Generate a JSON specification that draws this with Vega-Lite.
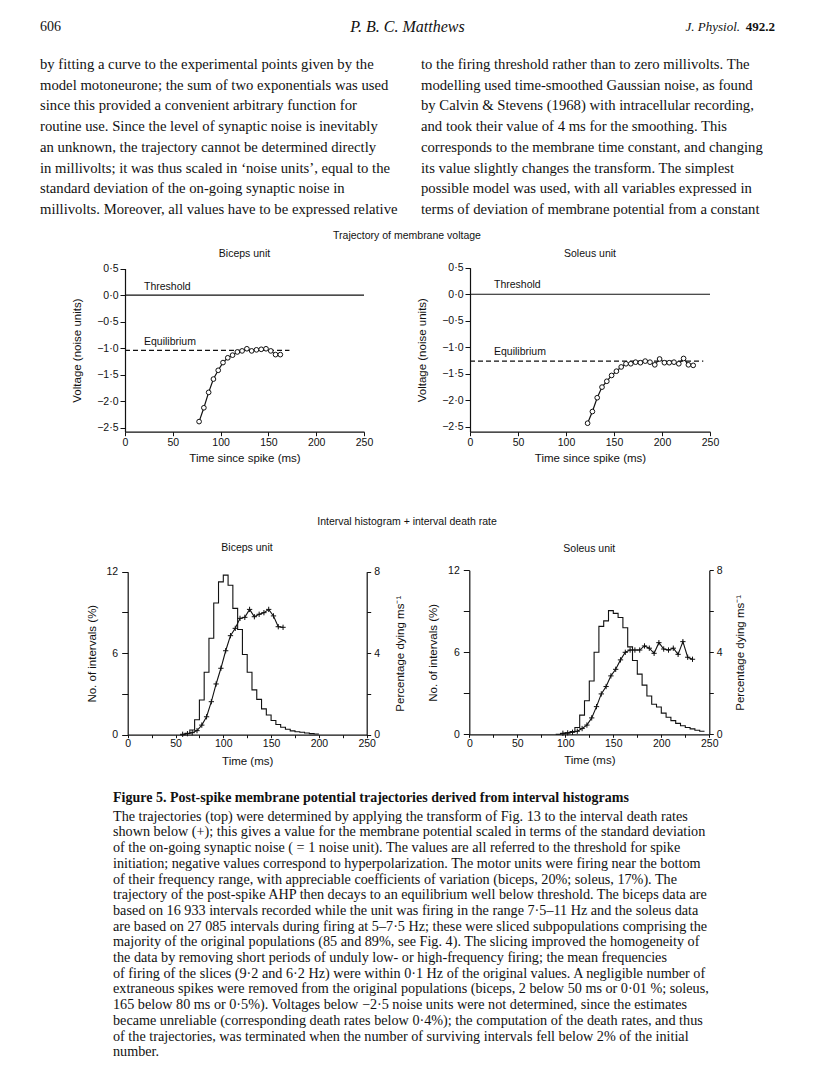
{
  "$schema": "https://vega.github.io/schema/vega-lite/v6.json",
  "width": 816,
  "height": 1071,
  "autosize": {"type": "none"},
  "padding": 0,
  "background": "white",
  "config": {
    "view": {"stroke": null},
    "axis": {
      "grid": false,
      "domainColor": "#111",
      "domainWidth": 1.2,
      "tickColor": "#111",
      "tickWidth": 1,
      "labelColor": "#111",
      "titleColor": "#111",
      "labelFont": "Liberation Sans",
      "titleFont": "Liberation Sans",
      "labelFontSize": 10.5,
      "titleFontSize": 11.5,
      "titleFontWeight": "normal",
      "labelFlush": false,
      "labelOverlap": false
    },
    "text": {"font": "Liberation Sans", "color": "#111"}
  },
  "datasets": {
    "header": [
      {"slot": "left", "part": "page", "row": "head", "text": "606"},
      {"slot": "center", "part": "author", "row": "head", "text": "P. B. C. Matthews"},
      {"slot": "right", "part": "journal", "row": "head", "text": "J. Physiol."},
      {"slot": "right", "part": "volume", "row": "head", "text": "492.2"}
    ],
    "para": [
      {"col": "left", "line": 1, "text": "by fitting a curve to the experimental points given by the"},
      {"col": "left", "line": 2, "text": "model motoneurone; the sum of two exponentials was used"},
      {"col": "left", "line": 3, "text": "since this provided a convenient arbitrary function for"},
      {"col": "left", "line": 4, "text": "routine use. Since the level of synaptic noise is inevitably"},
      {"col": "left", "line": 5, "text": "an unknown, the trajectory cannot be determined directly"},
      {"col": "left", "line": 6, "text": "in millivolts; it was thus scaled in ‘noise units’, equal to the"},
      {"col": "left", "line": 7, "text": "standard deviation of the on-going synaptic noise in"},
      {"col": "left", "line": 8, "text": "millivolts. Moreover, all values have to be expressed relative"},
      {"col": "right", "line": 1, "text": "to the firing threshold rather than to zero millivolts. The"},
      {"col": "right", "line": 2, "text": "modelling used time-smoothed Gaussian noise, as found"},
      {"col": "right", "line": 3, "text": "by Calvin & Stevens (1968) with intracellular recording,"},
      {"col": "right", "line": 4, "text": "and took their value of 4 ms for the smoothing. This"},
      {"col": "right", "line": 5, "text": "corresponds to the membrane time constant, and changing"},
      {"col": "right", "line": 6, "text": "its value slightly changes the transform. The simplest"},
      {"col": "right", "line": 7, "text": "possible model was used, with all variables expressed in"},
      {"col": "right", "line": 8, "text": "terms of deviation of membrane potential from a constant"}
    ],
    "figTitles": [
      {"block": "fig", "part": "top", "text": "Trajectory of membrane voltage"},
      {"block": "fig", "part": "bottom", "text": "Interval histogram + interval death rate"}
    ],
    "capTitle": [
      {"block": "cap", "text": "Figure 5. Post-spike membrane potential trajectories derived from interval histograms"}
    ],
    "caption": [
      {"block": "cap", "line": 1, "text": "The trajectories (top) were determined by applying the transform of Fig. 13 to the interval death rates"},
      {"block": "cap", "line": 2, "text": "shown below (+); this gives a value for the membrane potential scaled in terms of the standard deviation"},
      {"block": "cap", "line": 3, "text": "of the on-going synaptic noise ( = 1 noise unit). The values are all referred to the threshold for spike"},
      {"block": "cap", "line": 4, "text": "initiation; negative values correspond to hyperpolarization. The motor units were firing near the bottom"},
      {"block": "cap", "line": 5, "text": "of their frequency range, with appreciable coefficients of variation (biceps, 20%; soleus, 17%). The"},
      {"block": "cap", "line": 6, "text": "trajectory of the post-spike AHP then decays to an equilibrium well below threshold. The biceps data are"},
      {"block": "cap", "line": 7, "text": "based on 16 933 intervals recorded while the unit was firing in the range 7·5–11 Hz and the soleus data"},
      {"block": "cap", "line": 8, "text": "are based on 27 085 intervals during firing at 5–7·5 Hz; these were sliced subpopulations comprising the"},
      {"block": "cap", "line": 9, "text": "majority of the original populations (85 and 89%, see Fig. 4). The slicing improved the homogeneity of"},
      {"block": "cap", "line": 10, "text": "the data by removing short periods of unduly low- or high-frequency firing; the mean frequencies"},
      {"block": "cap", "line": 11, "text": "of firing of the slices (9·2 and 6·2 Hz) were within 0·1 Hz of the original values. A negligible number of"},
      {"block": "cap", "line": 12, "text": "extraneous spikes were removed from the original populations (biceps, 2 below 50 ms or 0·01 %; soleus,"},
      {"block": "cap", "line": 13, "text": "165 below 80 ms or 0·5%). Voltages below −2·5 noise units were not determined, since the estimates"},
      {"block": "cap", "line": 14, "text": "became unreliable (corresponding death rates below 0·4%); the computation of the death rates, and thus"},
      {"block": "cap", "line": 15, "text": "of the trajectories, was terminated when the number of surviving intervals fell below 2% of the initial"},
      {"block": "cap", "line": 16, "text": "number."}
    ],
    "panels": [
      {"panel": "biceps", "text": "Biceps unit"},
      {"panel": "soleus", "text": "Soleus unit"}
    ],
    "bicepsLevels": [
      {"label": "Threshold", "v": 0, "start": 0, "end": 250},
      {"label": "Equilibrium", "v": -1.04, "start": 0, "end": 172}
    ],
    "soleusLevels": [
      {"label": "Threshold", "v": 0, "start": 0, "end": 250},
      {"label": "Equilibrium", "v": -1.26, "start": 0, "end": 243}
    ],
    "bicepsTraj": [
      {"t": 77.5, "v": -2.38}, {"t": 82.5, "v": -2.12}, {"t": 87.5, "v": -1.83},
      {"t": 92.5, "v": -1.58}, {"t": 97.5, "v": -1.415}, {"t": 102.5, "v": -1.27},
      {"t": 107.5, "v": -1.18}, {"t": 112.5, "v": -1.13}, {"t": 117.5, "v": -1.07},
      {"t": 122.5, "v": -1.05}, {"t": 127.5, "v": -1.01}, {"t": 132.5, "v": -1.05},
      {"t": 137.5, "v": -1.03}, {"t": 142.5, "v": -1.02}, {"t": 147.5, "v": -1.01},
      {"t": 152.5, "v": -1.05}, {"t": 157.5, "v": -1.12}, {"t": 162.5, "v": -1.12}
    ],
    "soleusTraj": [
      {"t": 122.5, "v": -2.43}, {"t": 127.5, "v": -2.21}, {"t": 132.5, "v": -1.95},
      {"t": 137.5, "v": -1.75}, {"t": 142.5, "v": -1.64}, {"t": 147.5, "v": -1.53},
      {"t": 152.5, "v": -1.45}, {"t": 157.5, "v": -1.37}, {"t": 162.5, "v": -1.31},
      {"t": 167.5, "v": -1.31}, {"t": 172.5, "v": -1.28}, {"t": 177.5, "v": -1.29},
      {"t": 182.5, "v": -1.26}, {"t": 187.5, "v": -1.28}, {"t": 192.5, "v": -1.33},
      {"t": 197.5, "v": -1.22}, {"t": 202.5, "v": -1.29}, {"t": 207.5, "v": -1.29},
      {"t": 212.5, "v": -1.28}, {"t": 217.5, "v": -1.31}, {"t": 222.5, "v": -1.21},
      {"t": 227.5, "v": -1.33}, {"t": 232.5, "v": -1.34}
    ],
    "bicepsHist": [
      {"t": 55, "pct": 0}, {"t": 60, "pct": 0.1}, {"t": 65, "pct": 0.35}, {"t": 70, "pct": 1.1},
      {"t": 75, "pct": 2.55}, {"t": 80, "pct": 4.6}, {"t": 85, "pct": 7.1}, {"t": 90, "pct": 9.7},
      {"t": 95, "pct": 11.25}, {"t": 100, "pct": 11.75}, {"t": 105, "pct": 11.0}, {"t": 110, "pct": 9.3},
      {"t": 115, "pct": 7.75}, {"t": 120, "pct": 5.9}, {"t": 125, "pct": 4.6}, {"t": 130, "pct": 3.3},
      {"t": 135, "pct": 2.6}, {"t": 140, "pct": 1.9}, {"t": 145, "pct": 1.45}, {"t": 150, "pct": 1.05},
      {"t": 155, "pct": 0.75}, {"t": 160, "pct": 0.55}, {"t": 165, "pct": 0.4}, {"t": 170, "pct": 0.28},
      {"t": 175, "pct": 0.22}, {"t": 180, "pct": 0.18}, {"t": 185, "pct": 0.12}, {"t": 190, "pct": 0.08},
      {"t": 195, "pct": 0.05}, {"t": 200, "pct": 0.05}
    ],
    "soleusHist": [
      {"t": 90, "pct": 0}, {"t": 95, "pct": 0.05}, {"t": 100, "pct": 0.1}, {"t": 105, "pct": 0.2},
      {"t": 110, "pct": 0.5}, {"t": 115, "pct": 1.4}, {"t": 120, "pct": 2.45}, {"t": 125, "pct": 3.9},
      {"t": 130, "pct": 6.0}, {"t": 135, "pct": 7.9}, {"t": 140, "pct": 8.3}, {"t": 145, "pct": 9.05},
      {"t": 150, "pct": 8.85}, {"t": 155, "pct": 8.55}, {"t": 160, "pct": 7.8}, {"t": 165, "pct": 6.4},
      {"t": 170, "pct": 5.4}, {"t": 175, "pct": 4.4}, {"t": 180, "pct": 3.6}, {"t": 185, "pct": 2.8},
      {"t": 190, "pct": 2.2}, {"t": 195, "pct": 2.0}, {"t": 200, "pct": 1.55}, {"t": 205, "pct": 1.25},
      {"t": 210, "pct": 1.0}, {"t": 215, "pct": 0.8}, {"t": 220, "pct": 0.63}, {"t": 225, "pct": 0.5},
      {"t": 230, "pct": 0.4}, {"t": 235, "pct": 0.3}, {"t": 240, "pct": 0.22}, {"t": 245, "pct": 0.22}
    ],
    "bicepsRate": [
      {"t": 57.5, "rate": 0.02}, {"t": 62.5, "rate": 0.05}, {"t": 67.5, "rate": 0.1},
      {"t": 72.5, "rate": 0.2}, {"t": 77.5, "rate": 0.47}, {"t": 82.5, "rate": 0.88},
      {"t": 87.5, "rate": 1.62}, {"t": 92.5, "rate": 2.49}, {"t": 97.5, "rate": 3.26},
      {"t": 102.5, "rate": 4.12}, {"t": 107.5, "rate": 4.86}, {"t": 112.5, "rate": 5.22},
      {"t": 117.5, "rate": 5.71}, {"t": 122.5, "rate": 5.76}, {"t": 127.5, "rate": 6.15},
      {"t": 132.5, "rate": 5.79}, {"t": 137.5, "rate": 5.91}, {"t": 142.5, "rate": 5.99},
      {"t": 147.5, "rate": 6.15}, {"t": 152.5, "rate": 5.83}, {"t": 157.5, "rate": 5.3},
      {"t": 162.5, "rate": 5.27}
    ],
    "soleusRate": [
      {"t": 97.5, "rate": 0.05}, {"t": 102.5, "rate": 0.07}, {"t": 107.5, "rate": 0.1},
      {"t": 112.5, "rate": 0.15}, {"t": 117.5, "rate": 0.28}, {"t": 122.5, "rate": 0.45},
      {"t": 127.5, "rate": 0.8}, {"t": 132.5, "rate": 1.35}, {"t": 137.5, "rate": 1.97},
      {"t": 142.5, "rate": 2.33}, {"t": 147.5, "rate": 2.85}, {"t": 152.5, "rate": 3.17},
      {"t": 157.5, "rate": 3.63}, {"t": 162.5, "rate": 4.0}, {"t": 167.5, "rate": 4.11},
      {"t": 172.5, "rate": 4.11}, {"t": 177.5, "rate": 4.11}, {"t": 182.5, "rate": 4.31},
      {"t": 187.5, "rate": 4.2}, {"t": 192.5, "rate": 3.95}, {"t": 197.5, "rate": 4.47},
      {"t": 202.5, "rate": 4.16}, {"t": 207.5, "rate": 4.11}, {"t": 212.5, "rate": 4.2},
      {"t": 217.5, "rate": 3.9}, {"t": 222.5, "rate": 4.52}, {"t": 227.5, "rate": 3.76},
      {"t": 232.5, "rate": 3.66}
    ]
  },
  "layer": [
    {
      "data": {"name": "header"},
      "transform": [{"filter": "datum.part == 'page'"}],
      "mark": {"type": "text", "align": "left", "baseline": "middle", "font": "Liberation Serif", "fontSize": 14},
      "encoding": {
        "x": {"field": "slot", "type": "nominal", "scale": {"type": "point", "domain": ["left", "center", "right"], "range": [40, 775], "padding": 0}, "axis": null},
        "y": {"field": "row", "type": "nominal", "scale": {"type": "point", "domain": ["head"], "range": [27, 27], "padding": 0}, "axis": null},
        "text": {"field": "text"}
      }
    },
    {
      "data": {"name": "header"},
      "transform": [{"filter": "datum.part == 'author'"}],
      "mark": {"type": "text", "align": "center", "baseline": "middle", "font": "Liberation Serif", "fontSize": 16, "fontStyle": "italic"},
      "encoding": {
        "x": {"field": "slot", "type": "nominal", "scale": {"type": "point", "domain": ["left", "center", "right"], "range": [40, 775], "padding": 0}, "axis": null},
        "y": {"field": "row", "type": "nominal", "scale": {"type": "point", "domain": ["head"], "range": [27, 27], "padding": 0}, "axis": null},
        "text": {"field": "text"}
      }
    },
    {
      "data": {"name": "header"},
      "transform": [{"filter": "datum.part == 'journal'"}],
      "mark": {"type": "text", "align": "right", "baseline": "middle", "font": "Liberation Serif", "fontSize": 13, "fontStyle": "italic", "dx": -35},
      "encoding": {
        "x": {"field": "slot", "type": "nominal", "scale": {"type": "point", "domain": ["left", "center", "right"], "range": [40, 775], "padding": 0}, "axis": null},
        "y": {"field": "row", "type": "nominal", "scale": {"type": "point", "domain": ["head"], "range": [27, 27], "padding": 0}, "axis": null},
        "text": {"field": "text"}
      }
    },
    {
      "data": {"name": "header"},
      "transform": [{"filter": "datum.part == 'volume'"}],
      "mark": {"type": "text", "align": "right", "baseline": "middle", "font": "Liberation Serif", "fontSize": 13, "fontWeight": "bold"},
      "encoding": {
        "x": {"field": "slot", "type": "nominal", "scale": {"type": "point", "domain": ["left", "center", "right"], "range": [40, 775], "padding": 0}, "axis": null},
        "y": {"field": "row", "type": "nominal", "scale": {"type": "point", "domain": ["head"], "range": [27, 27], "padding": 0}, "axis": null},
        "text": {"field": "text"}
      }
    },
    {
      "data": {"name": "para"},
      "mark": {"type": "text", "align": "left", "baseline": "middle", "font": "Liberation Serif", "fontSize": 14.7},
      "encoding": {
        "x": {"field": "col", "type": "nominal", "scale": {"type": "point", "domain": ["left", "right"], "range": [40, 421], "padding": 0}, "axis": null},
        "y": {"field": "line", "type": "quantitative", "scale": {"domain": [1, 8], "range": [65, 210], "nice": false, "zero": false}, "axis": null},
        "text": {"field": "text"}
      }
    },
    {
      "data": {"name": "figTitles"},
      "mark": {"type": "text", "align": "center", "baseline": "middle", "fontSize": 10.5},
      "encoding": {
        "x": {"field": "block", "type": "nominal", "scale": {"type": "point", "domain": ["fig"], "range": [407, 407], "padding": 0}, "axis": null},
        "y": {"field": "part", "type": "nominal", "scale": {"type": "point", "domain": ["top", "bottom"], "range": [236, 522], "padding": 0}, "axis": null},
        "text": {"field": "text"}
      }
    },
    {
      "data": {"name": "capTitle"},
      "mark": {"type": "text", "align": "left", "baseline": "middle", "font": "Liberation Serif", "fontSize": 14, "fontWeight": "bold"},
      "encoding": {
        "x": {"field": "block", "type": "nominal", "scale": {"type": "point", "domain": ["cap"], "range": [113, 113], "padding": 0}, "axis": null},
        "y": {"field": "block", "type": "nominal", "scale": {"type": "point", "domain": ["cap"], "range": [798, 798], "padding": 0}, "axis": null},
        "text": {"field": "text"}
      }
    },
    {
      "data": {"name": "caption"},
      "mark": {"type": "text", "align": "left", "baseline": "middle", "font": "Liberation Serif", "fontSize": 14.2},
      "encoding": {
        "x": {"field": "block", "type": "nominal", "scale": {"type": "point", "domain": ["cap"], "range": [113, 113], "padding": 0}, "axis": null},
        "y": {"field": "line", "type": "quantitative", "scale": {"domain": [1, 16], "range": [816.7, 1052.2], "nice": false, "zero": false}, "axis": null},
        "text": {"field": "text"}
      }
    },
    {
      "data": {"name": "bicepsLevels"},
      "transform": [{"filter": "datum.label == 'Threshold'"}],
      "mark": {"type": "rule", "color": "#111", "strokeWidth": 1.2},
      "encoding": {
        "x": {"field": "start", "type": "quantitative", "scale": {"domain": [0, 250], "range": [125, 364], "nice": false, "zero": false},
          "axis": {"orient": "bottom", "offset": -639.3, "values": [0, 50, 100, 150, 200, 250], "title": "Time since spike (ms)", "tickSize": 4, "labelPadding": 2, "titlePadding": 4}},
        "x2": {"field": "end"},
        "y": {"field": "v", "type": "quantitative", "scale": {"domain": [-2.57, 0.5], "range": [431.7, 268.5], "nice": false, "zero": false},
          "axis": {"orient": "left", "offset": -125, "values": [-2.5, -2, -1.5, -1, -0.5, 0, 0.5], "labelExpr": "replace(format(datum.value, '.1f'), '.', '·')", "title": "Voltage (noise units)", "tickSize": 5, "labelPadding": 2, "titlePadding": 14}}
      }
    },
    {
      "data": {"name": "bicepsLevels"},
      "transform": [{"filter": "datum.label == 'Equilibrium'"}],
      "mark": {"type": "rule", "color": "#111", "strokeWidth": 1.1, "strokeDash": [5, 3]},
      "encoding": {
        "x": {"field": "start", "type": "quantitative", "scale": {"domain": [0, 250], "range": [125, 364], "nice": false, "zero": false}, "axis": null},
        "x2": {"field": "end"},
        "y": {"field": "v", "type": "quantitative", "scale": {"domain": [-2.57, 0.5], "range": [431.7, 268.5], "nice": false, "zero": false}, "axis": null}
      }
    },
    {
      "data": {"name": "bicepsTraj"},
      "mark": {"type": "line", "color": "#111", "strokeWidth": 1.2},
      "encoding": {
        "x": {"field": "t", "type": "quantitative", "scale": {"domain": [0, 250], "range": [125, 364], "nice": false, "zero": false}, "axis": null},
        "y": {"field": "v", "type": "quantitative", "scale": {"domain": [-2.57, 0.5], "range": [431.7, 268.5], "nice": false, "zero": false}, "axis": null}
      }
    },
    {
      "data": {"name": "bicepsTraj"},
      "mark": {"type": "point", "shape": "circle", "size": 22, "filled": true, "fill": "white", "stroke": "#111", "strokeWidth": 1, "opacity": 1},
      "encoding": {
        "x": {"field": "t", "type": "quantitative", "scale": {"domain": [0, 250], "range": [125, 364], "nice": false, "zero": false}, "axis": null},
        "y": {"field": "v", "type": "quantitative", "scale": {"domain": [-2.57, 0.5], "range": [431.7, 268.5], "nice": false, "zero": false}, "axis": null}
      }
    },
    {
      "data": {"name": "bicepsLevels"},
      "mark": {"type": "text", "align": "left", "baseline": "middle", "dy": -8, "dx": 19, "fontSize": 10.5},
      "encoding": {
        "x": {"field": "start", "type": "quantitative", "scale": {"domain": [0, 250], "range": [125, 364], "nice": false, "zero": false}, "axis": null},
        "y": {"field": "v", "type": "quantitative", "scale": {"domain": [-2.57, 0.5], "range": [431.7, 268.5], "nice": false, "zero": false}, "axis": null},
        "text": {"field": "label"}
      }
    },
    {
      "data": {"name": "panels"},
      "transform": [{"filter": "datum.panel == 'biceps'"}],
      "mark": {"type": "text", "align": "center", "baseline": "middle", "fontSize": 10.5},
      "encoding": {
        "x": {"field": "panel", "type": "nominal", "scale": {"type": "point", "domain": ["biceps"], "range": [244.5, 244.5], "padding": 0}, "axis": null},
        "y": {"field": "panel", "type": "nominal", "scale": {"type": "point", "domain": ["biceps"], "range": [254, 254], "padding": 0}, "axis": null},
        "text": {"field": "text"}
      }
    },
    {
      "data": {"name": "soleusLevels"},
      "transform": [{"filter": "datum.label == 'Threshold'"}],
      "mark": {"type": "rule", "color": "#111", "strokeWidth": 1.2},
      "encoding": {
        "x": {"field": "start", "type": "quantitative", "scale": {"domain": [0, 250], "range": [470, 710], "nice": false, "zero": false},
          "axis": {"orient": "bottom", "offset": -639.3, "values": [0, 50, 100, 150, 200, 250], "title": "Time since spike (ms)", "tickSize": 4, "labelPadding": 2, "titlePadding": 4}},
        "x2": {"field": "end"},
        "y": {"field": "v", "type": "quantitative", "scale": {"domain": [-2.59, 0.5], "range": [431.7, 267.7], "nice": false, "zero": false},
          "axis": {"orient": "left", "offset": -470, "values": [-2.5, -2, -1.5, -1, -0.5, 0, 0.5], "labelExpr": "replace(format(datum.value, '.1f'), '.', '·')", "title": "Voltage (noise units)", "tickSize": 5, "labelPadding": 2, "titlePadding": 14}}
      }
    },
    {
      "data": {"name": "soleusLevels"},
      "transform": [{"filter": "datum.label == 'Equilibrium'"}],
      "mark": {"type": "rule", "color": "#111", "strokeWidth": 1.1, "strokeDash": [5, 3]},
      "encoding": {
        "x": {"field": "start", "type": "quantitative", "scale": {"domain": [0, 250], "range": [470, 710], "nice": false, "zero": false}, "axis": null},
        "x2": {"field": "end"},
        "y": {"field": "v", "type": "quantitative", "scale": {"domain": [-2.59, 0.5], "range": [431.7, 267.7], "nice": false, "zero": false}, "axis": null}
      }
    },
    {
      "data": {"name": "soleusTraj"},
      "mark": {"type": "line", "color": "#111", "strokeWidth": 1.2},
      "encoding": {
        "x": {"field": "t", "type": "quantitative", "scale": {"domain": [0, 250], "range": [470, 710], "nice": false, "zero": false}, "axis": null},
        "y": {"field": "v", "type": "quantitative", "scale": {"domain": [-2.59, 0.5], "range": [431.7, 267.7], "nice": false, "zero": false}, "axis": null}
      }
    },
    {
      "data": {"name": "soleusTraj"},
      "mark": {"type": "point", "shape": "circle", "size": 22, "filled": true, "fill": "white", "stroke": "#111", "strokeWidth": 1, "opacity": 1},
      "encoding": {
        "x": {"field": "t", "type": "quantitative", "scale": {"domain": [0, 250], "range": [470, 710], "nice": false, "zero": false}, "axis": null},
        "y": {"field": "v", "type": "quantitative", "scale": {"domain": [-2.59, 0.5], "range": [431.7, 267.7], "nice": false, "zero": false}, "axis": null}
      }
    },
    {
      "data": {"name": "soleusLevels"},
      "mark": {"type": "text", "align": "left", "baseline": "middle", "dy": -9, "dx": 24, "fontSize": 10.5},
      "encoding": {
        "x": {"field": "start", "type": "quantitative", "scale": {"domain": [0, 250], "range": [470, 710], "nice": false, "zero": false}, "axis": null},
        "y": {"field": "v", "type": "quantitative", "scale": {"domain": [-2.59, 0.5], "range": [431.7, 267.7], "nice": false, "zero": false}, "axis": null},
        "text": {"field": "label"}
      }
    },
    {
      "data": {"name": "panels"},
      "transform": [{"filter": "datum.panel == 'soleus'"}],
      "mark": {"type": "text", "align": "center", "baseline": "middle", "fontSize": 10.5},
      "encoding": {
        "x": {"field": "panel", "type": "nominal", "scale": {"type": "point", "domain": ["soleus"], "range": [590, 590], "padding": 0}, "axis": null},
        "y": {"field": "panel", "type": "nominal", "scale": {"type": "point", "domain": ["soleus"], "range": [254, 254], "padding": 0}, "axis": null},
        "text": {"field": "text"}
      }
    },
    {
      "data": {"name": "bicepsHist"},
      "mark": {"type": "line", "interpolate": "step-after", "color": "#111", "strokeWidth": 1.1},
      "encoding": {
        "x": {"field": "t", "type": "quantitative", "scale": {"domain": [0, 250], "range": [127.7, 366.7], "nice": false, "zero": false},
          "axis": {"orient": "bottom", "offset": -336.3, "values": [0, 25, 50, 75, 100, 125, 150, 175, 200, 225, 250], "labelExpr": "datum.value % 50 == 0 ? datum.label : ''", "title": "Time (ms)", "tickSize": 3, "labelPadding": 1, "titlePadding": 6}},
        "y": {"field": "pct", "type": "quantitative", "scale": {"domain": [0, 12], "range": [734.7, 571.7], "nice": false, "zero": false},
          "axis": {"orient": "left", "offset": -127.7, "values": [0, 3, 6, 9, 12], "labelExpr": "datum.value % 6 == 0 ? datum.label : ''", "title": "No. of intervals (%)", "tickSize": 6, "labelPadding": 4, "titlePadding": 9}}
      }
    },
    {
      "data": {"name": "panels"},
      "transform": [{"filter": "datum.panel == 'biceps'"}],
      "mark": {"type": "text", "align": "center", "baseline": "middle", "fontSize": 10.5},
      "encoding": {
        "x": {"field": "panel", "type": "nominal", "scale": {"type": "point", "domain": ["biceps"], "range": [247, 247], "padding": 0}, "axis": null},
        "y": {"field": "panel", "type": "nominal", "scale": {"type": "point", "domain": ["biceps"], "range": [548, 548], "padding": 0}, "axis": null},
        "text": {"field": "text"}
      }
    },
    {
      "data": {"name": "bicepsRate"},
      "mark": {"type": "line", "color": "#111", "strokeWidth": 1.1},
      "encoding": {
        "x": {"field": "t", "type": "quantitative", "scale": {"domain": [0, 250], "range": [127.7, 366.7], "nice": false, "zero": false}, "axis": null},
        "y": {"field": "rate", "type": "quantitative", "scale": {"domain": [0, 8], "range": [734.7, 571.7], "nice": false, "zero": false},
          "axis": {"orient": "right", "offset": -449.3, "values": [0, 2, 4, 6, 8], "labelExpr": "datum.value % 4 == 0 ? datum.label : ''", "title": "Percentage dying ms⁻¹", "titleAngle": 270, "titleBaseline": "top", "tickSize": 4, "labelPadding": 3, "titlePadding": 15}}
      }
    },
    {
      "data": {"name": "bicepsRate"},
      "mark": {"type": "point", "shape": "M-1,0L1,0M0,-1L0,1", "size": 28, "filled": false, "color": "#111", "strokeWidth": 1, "opacity": 1},
      "encoding": {
        "x": {"field": "t", "type": "quantitative", "scale": {"domain": [0, 250], "range": [127.7, 366.7], "nice": false, "zero": false}, "axis": null},
        "y": {"field": "rate", "type": "quantitative", "scale": {"domain": [0, 8], "range": [734.7, 571.7], "nice": false, "zero": false}, "axis": null}
      }
    },
    {
      "data": {"name": "soleusHist"},
      "mark": {"type": "line", "interpolate": "step-after", "color": "#111", "strokeWidth": 1.1},
      "encoding": {
        "x": {"field": "t", "type": "quantitative", "scale": {"domain": [0, 250], "range": [469.3, 709.3], "nice": false, "zero": false},
          "axis": {"orient": "bottom", "offset": -336.7, "values": [0, 25, 50, 75, 100, 125, 150, 175, 200, 225, 250], "labelExpr": "datum.value % 50 == 0 ? datum.label : ''", "title": "Time (ms)", "tickSize": 3, "labelPadding": 1, "titlePadding": 6}},
        "y": {"field": "pct", "type": "quantitative", "scale": {"domain": [0, 12], "range": [734.3, 570.3], "nice": false, "zero": false},
          "axis": {"orient": "left", "offset": -469.3, "values": [0, 3, 6, 9, 12], "labelExpr": "datum.value % 6 == 0 ? datum.label : ''", "title": "No. of intervals (%)", "tickSize": 6, "labelPadding": 4, "titlePadding": 9}}
      }
    },
    {
      "data": {"name": "panels"},
      "transform": [{"filter": "datum.panel == 'soleus'"}],
      "mark": {"type": "text", "align": "center", "baseline": "middle", "fontSize": 10.5},
      "encoding": {
        "x": {"field": "panel", "type": "nominal", "scale": {"type": "point", "domain": ["soleus"], "range": [589.3, 589.3], "padding": 0}, "axis": null},
        "y": {"field": "panel", "type": "nominal", "scale": {"type": "point", "domain": ["soleus"], "range": [549, 549], "padding": 0}, "axis": null},
        "text": {"field": "text"}
      }
    },
    {
      "data": {"name": "soleusRate"},
      "mark": {"type": "line", "color": "#111", "strokeWidth": 1.1},
      "encoding": {
        "x": {"field": "t", "type": "quantitative", "scale": {"domain": [0, 250], "range": [469.3, 709.3], "nice": false, "zero": false}, "axis": null},
        "y": {"field": "rate", "type": "quantitative", "scale": {"domain": [0, 8], "range": [734.3, 570.3], "nice": false, "zero": false},
          "axis": {"orient": "right", "offset": -106.7, "values": [0, 2, 4, 6, 8], "labelExpr": "datum.value % 4 == 0 ? datum.label : ''", "title": "Percentage dying ms⁻¹", "titleAngle": 270, "titleBaseline": "top", "tickSize": 4, "labelPadding": 3, "titlePadding": 12}}
      }
    },
    {
      "data": {"name": "soleusRate"},
      "mark": {"type": "point", "shape": "M-1,0L1,0M0,-1L0,1", "size": 28, "filled": false, "color": "#111", "strokeWidth": 1, "opacity": 1},
      "encoding": {
        "x": {"field": "t", "type": "quantitative", "scale": {"domain": [0, 250], "range": [469.3, 709.3], "nice": false, "zero": false}, "axis": null},
        "y": {"field": "rate", "type": "quantitative", "scale": {"domain": [0, 8], "range": [734.3, 570.3], "nice": false, "zero": false}, "axis": null}
      }
    }
  ],
  "resolve": {"scale": {"x": "independent", "y": "independent"}, "axis": {"x": "independent", "y": "independent"}}
}
